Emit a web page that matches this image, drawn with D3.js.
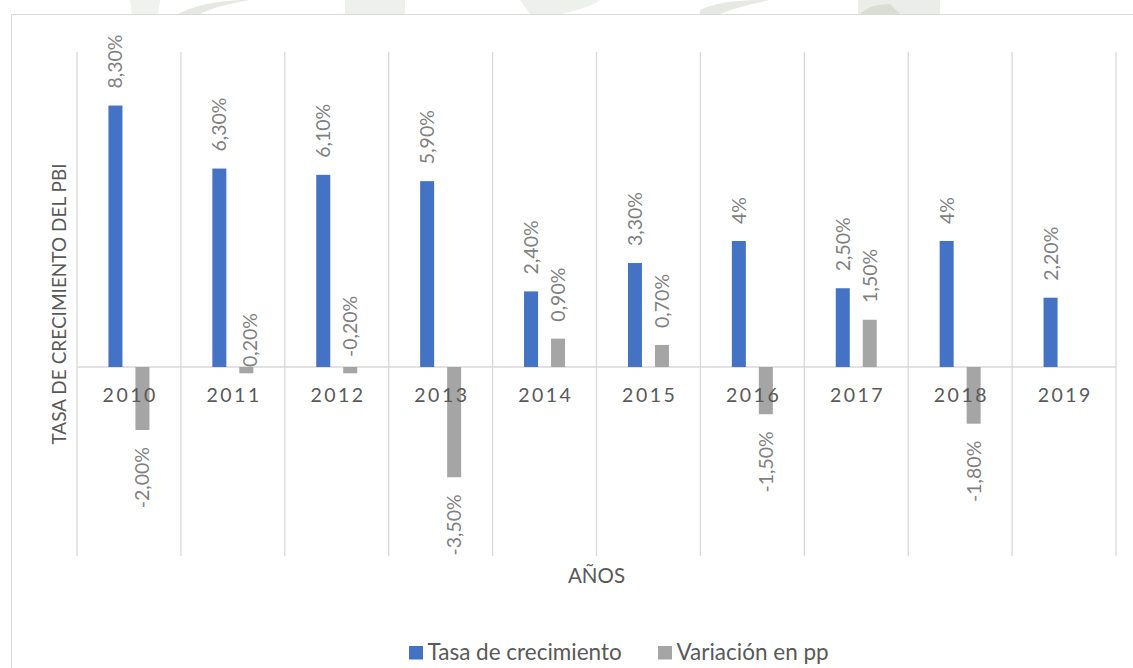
<!DOCTYPE html>
<html>
<head>
<meta charset="utf-8">
<script src="https://cdn.jsdelivr.net/npm/d3@7"></script>
<style>
  html, body { margin: 0; padding: 0; background: #ffffff; }
  svg { display: block; }
  text { font-family: Lato, "Open Sans", "Liberation Sans", sans-serif; }
</style>
</head>
<body>
<svg id="chart" width="1133" height="668"></svg>
<script>
// ---- data ----
const years = ["2010", "2011", "2012", "2013", "2014", "2015", "2016", "2017", "2018", "2019"];
const tasaCrecimiento = [8.3, 6.3, 6.1, 5.9, 2.4, 3.3, 4.0, 2.5, 4.0, 2.2];
const variacionPP = [-2.0, -0.2, -0.2, -3.5, 0.9, 0.7, -1.5, 1.5, -1.8, null];
const tasaLabels = ["8,30%", "6,30%", "6,10%", "5,90%", "2,40%", "3,30%", "4%", "2,50%", "4%", "2,20%"];
const variacionLabels = ["-2,00%", "0,20%", "-0,20%", "-3,50%", "0,90%", "0,70%", "-1,50%", "1,50%", "-1,80%", ""];
const seriesNames = ["Tasa de crecimiento", "Variación en pp"];
const seriesKeys = ["tasa", "variacion"];
const yDomain = [-6, 10];
const xTitle = "AÑOS";
const yTitle = "TASA DE CRECIMIENTO DEL PBI";

// ---- style ----
const colors = { tasa: "#4472C4", variacion: "#A5A5A5" };
const gridColor = "#d9d9d9";
const labelColor = "#7f7f7f";
const textColor = "#595959";

const svg = d3.select("#chart");

// faint watermark fragments visible above the chart frame
const wm = svg.append("g").attr("fill", "#e6e9e3");
wm.append("path").attr("d", "M130,0 L160,0 L158,14 L132,14 Z").attr("opacity", 0.6);
wm.append("path").attr("d", "M178,14 Q200,2 240,0 L250,0 Q215,6 200,14 Z");
wm.append("path").attr("d", "M345,0 L405,0 L405,14 L345,14 Z").attr("opacity", 0.7);
wm.append("path").attr("d", "M520,0 L600,0 Q590,8 560,14 L530,14 Z").attr("opacity", 0.7);
wm.append("path").attr("d", "M700,10 Q720,0 760,0 L770,0 Q740,6 720,14 L700,14 Z");
wm.append("path").attr("d", "M858,0 L940,0 L940,14 L858,14 Z").attr("opacity", 0.8);
wm.append("path").attr("d", "M860,14 Q870,4 890,4 L900,14 Z").attr("fill", "#d9ddd6");

// chart frame
svg.append("rect")
  .attr("x", 11.5).attr("y", 14.5)
  .attr("width", 1200).attr("height", 700)
  .attr("fill", "#ffffff")
  .attr("stroke", gridColor).attr("stroke-width", 1);

// ---- scales ----
const x0 = d3.scaleBand().domain(years).range([77, 1116]).padding(0);
const bw = x0.bandwidth();
const x1 = d3.scaleBand().domain(seriesKeys)
  .range([bw / 2 - 20.5, bw / 2 + 20.5]).paddingInner(0.481).paddingOuter(0);
const y = d3.scaleLinear().domain(yDomain).range([556, 52]);

// vertical gridlines at category boundaries
const bounds = years.map(d => x0(d)).concat([x0.range()[1]]);
svg.append("g").selectAll("line").data(bounds).join("line")
  .attr("x1", d => d).attr("x2", d => d)
  .attr("y1", y(yDomain[1])).attr("y2", y(yDomain[0]))
  .attr("stroke", gridColor).attr("stroke-width", 1.3);

// zero line
svg.append("line")
  .attr("x1", x0.range()[0]).attr("x2", x0.range()[1])
  .attr("y1", y(0)).attr("y2", y(0))
  .attr("stroke", gridColor).attr("stroke-width", 1.5);

// ---- data rows ----
const rows = years.map((yr, i) => ({
  year: yr,
  tasa: tasaCrecimiento[i], variacion: variacionPP[i],
  tasaLabel: tasaLabels[i], variacionLabel: variacionLabels[i]
}));

const labelLayer = svg.append("g");
const barLayer = svg.append("g");

// labels (drawn under bars so tiny bars sit on top, as in the original)
const labelGap = 17;
seriesKeys.forEach(key => {
  rows.forEach(r => {
    const v = r[key];
    if (v === null || v === undefined) return;
    const txt = r[key + "Label"];
    const cx = x0(r.year) + x1(key) + x1.bandwidth() / 2;
    let ay, anchor, dxShift = 0;
    if (Math.abs(v) < 0.5 && v < 0) {
      // small negative values: label sits above the zero line
      if (r.year === "2011") { ay = y(0); dxShift = 3.5; }
      else { ay = y(0) - 10; }
      anchor = "start";
    } else if (v >= 0) {
      ay = y(v) - labelGap; anchor = "start";
    } else {
      ay = y(v) + labelGap; anchor = "end";
    }
    labelLayer.append("text")
      .attr("transform", `translate(${cx + dxShift},${ay}) rotate(-90)`)
      .attr("dy", "0.36em")
      .attr("text-anchor", anchor)
      .attr("fill", labelColor)
      .style("font-size", "19.5px")
      .text(txt);
  });
});

// bars
seriesKeys.forEach(key => {
  barLayer.append("g").selectAll("rect")
    .data(rows.filter(r => r[key] !== null && r[key] !== undefined))
    .join("rect")
    .attr("x", r => x0(r.year) + x1(key))
    .attr("width", x1.bandwidth())
    .attr("y", r => y(Math.max(0, r[key])))
    .attr("height", r => Math.abs(y(r[key]) - y(0)))
    .attr("fill", colors[key]);
});

// category axis labels (just under the zero line, drawn over the bars)
const xAxis = svg.append("g")
  .attr("transform", `translate(0,${y(0)})`)
  .call(d3.axisBottom(x0).tickSize(0).tickPadding(0));
xAxis.select(".domain").remove();
xAxis.selectAll("text")
  .attr("y", 35).attr("dy", 0).attr("dx", 1.25)
  .attr("fill", textColor)
  .style("font-family", "Lato, 'Open Sans', sans-serif")
  .style("font-size", "19.5px")
  .style("letter-spacing", "2.5px");

// axis titles
svg.append("text")
  .attr("x", (x0.range()[0] + x0.range()[1]) / 2).attr("y", 583)
  .attr("text-anchor", "middle")
  .attr("fill", textColor)
  .style("font-size", "20.5px")
  .text(xTitle);

svg.append("text")
  .attr("transform", `translate(59,${(y(yDomain[0]) + y(yDomain[1])) / 2}) rotate(-90)`)
  .attr("dy", "0.36em")
  .attr("text-anchor", "middle")
  .attr("fill", textColor)
  .style("font-size", "19px")
  .text(yTitle);

// legend
const legendItems = [
  { key: "tasa", name: seriesNames[0], x: 409 },
  { key: "variacion", name: seriesNames[1], x: 658 }
];
const lg = svg.append("g");
legendItems.forEach(it => {
  lg.append("rect")
    .attr("x", it.x).attr("y", 646)
    .attr("width", 14).attr("height", 13.5)
    .attr("fill", colors[it.key]);
  lg.append("text")
    .attr("x", it.x + 18.5).attr("y", 659.5)
    .attr("fill", textColor)
    .style("font-size", "22.5px")
    .text(it.name);
});
</script>
</body>
</html>
